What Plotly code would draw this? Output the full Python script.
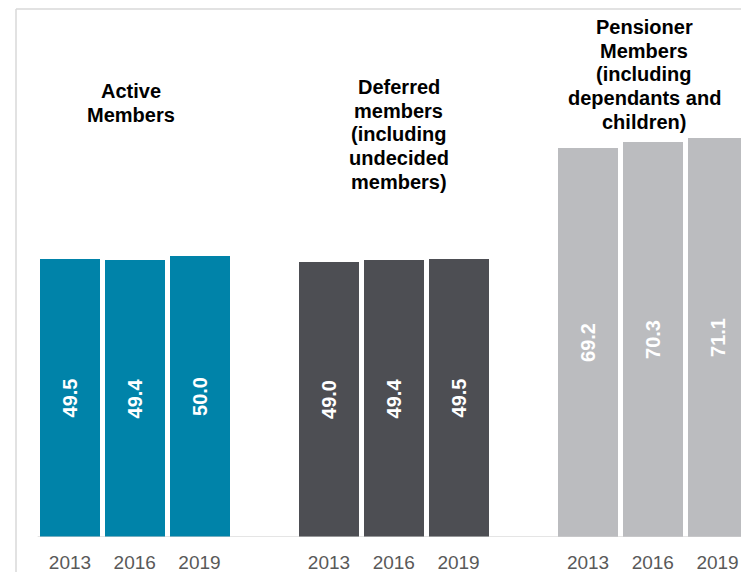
import plotly.graph_objects as go

groups = ["Active Members", "Deferred members (including undecided members)",
          "Pensioner Members (including dependants and children)"]
group_title_lines = [
    ["Active", "Members"],
    ["Deferred", "members", "(including", "undecided", "members)"],
    ["Pensioner", "Members", "(including", "dependants and", "children)"],
]
years = ["2013", "2016", "2019"]
active = [49.5, 49.4, 50.0]
deferred = [49.0, 49.4, 49.5]
pensioner = [69.2, 70.3, 71.1]
series = [active, deferred, pensioner]
colors = ["#0083A9", "#4D4E53", "#BBBCBF"]

FONT = "Liberation Sans, Arial, sans-serif"

fig = go.Figure()
tickvals, ticktext = [], []
for g, vals in enumerate(series):
    xs = [g * 4 + i for i in range(len(years))]
    tickvals += xs
    ticktext += years
    fig.add_trace(go.Bar(
        x=xs, y=vals, width=0.927,
        marker=dict(color=colors[g], line=dict(width=0)),
        text=[f"{v:.1f}" for v in vals],
        textposition="inside", insidetextanchor="middle", textangle=-90,
        textfont=dict(family=FONT, size=20, color="white", weight="bold"),
        hoverinfo="skip", showlegend=False, cliponaxis=False,
    ))

# page offset: browser body margin of 8px (keep page from scrolling)
OFF = 8
PLOT_TOP, PLOT_BOTTOM = 9, 537  # page pixels
def py(pix):
    return (PLOT_BOTTOM - pix) / (PLOT_BOTTOM - PLOT_TOP)

head_x = [0.942, 5.08, 8.865]
first_base = [97, 93, 33]
line_step = 23.7
for g, lines in enumerate(group_title_lines):
    for k, line in enumerate(lines):
        base = first_base[g] + k * line_step
        fig.add_annotation(
            x=head_x[g], xref="x", y=py(base - 6), yref="paper",
            yanchor="middle", xanchor="center", showarrow=False,
            text=line, align="center",
            font=dict(family=FONT, size=20, color="#000000", weight="bold"),
        )

# chart border (top & left) and baseline
fig.add_shape(type="line", xref="paper", yref="paper", x0=0, x1=0, y0=-0.2, y1=1,
              line=dict(color="#D9D9D9", width=1.5))
fig.add_shape(type="line", xref="paper", yref="paper", x0=0, x1=1.05, y0=1, y1=1,
              line=dict(color="#D9D9D9", width=1.5))
fig.add_shape(type="line", xref="x", yref="y", x0=-0.5, x1=10.6, y0=0, y1=0,
              line=dict(color="rgba(210,210,210,0.75)", width=1.5))

fig_h = 580 - 2 * OFF
fig.update_layout(
    width=749 - OFF, height=fig_h,
    margin=dict(l=16 - OFF, r=0, t=PLOT_TOP - OFF, b=fig_h - (PLOT_BOTTOM - OFF)),
    paper_bgcolor="white", plot_bgcolor="white",
    bargap=0,
    xaxis=dict(range=[-0.834, 10.486], tickvals=tickvals, ticktext=ticktext,
               showgrid=False, zeroline=False, showline=False, ticks="",
               ticklabelstandoff=12,
               tickfont=dict(family=FONT, size=19, color="#595959")),
    yaxis=dict(range=[0, 94], visible=False, showgrid=False, zeroline=False),
)

fig.write_html("out.html")
